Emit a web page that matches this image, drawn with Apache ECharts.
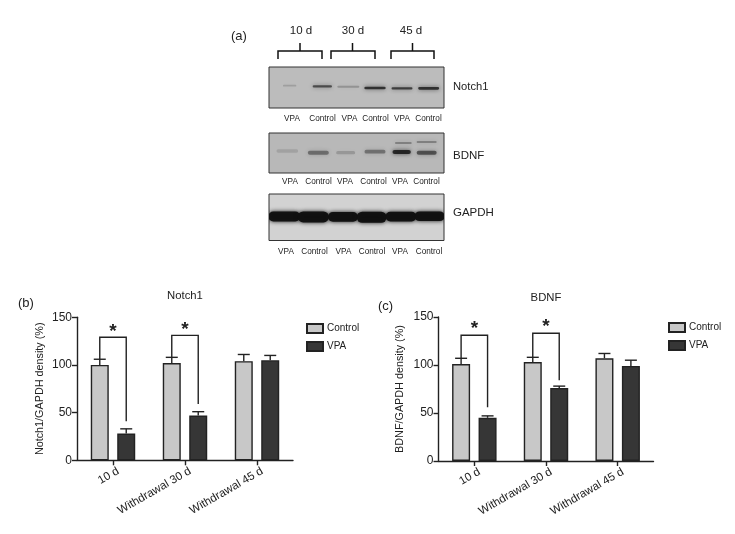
<!DOCTYPE html>
<html>
<head>
<meta charset="utf-8">
<style>html,body{margin:0;padding:0;background:#fff}#c{width:735px;height:534px}</style>
<script src="https://cdn.jsdelivr.net/npm/echarts@6/dist/echarts.min.js"></script>
</head>
<body>
<div id="c"></div>
<script>
const categories = ['10 d', 'Withdrawal 30 d', 'Withdrawal 45 d'];
const notchControl = [100, 102, 104];
const notchControlErr = [106, 108, 111];
const notchVPA = [28, 47, 105];
const notchVPAErr = [33, 51, 110];
const bdnfControl = [101, 103, 107];
const bdnfControlErr = [107, 108, 112];
const bdnfVPA = [45, 76, 99];
const bdnfVPAErr = [47, 78, 105];
// [category, left foot, top, right foot, star]
const notchBrackets = [[0, 106, 129, 41, 135], [1, 108, 131, 59, 137]];
const bdnfBrackets = [[0, 107, 131, 56, 138], [1, 108, 133, 84, 140]];
// blot bands: [lane centre, height position, width, thickness, darkness]
const notchBands = [[62,56,40,5,.16],[160,58,58,7,.6],[238,59,66,6,.22],[318,63,64,8,.75],[399,64,63,7,.68],[479,64,63,8,.75]];
const bdnfBands = [[55,54,65,10,.12],[148,59,63,12,.4],[230,59,57,10,.18],[318,56,63,11,.38],[398,57,55,12,.8],[473,59,60,12,.55],[403,30,50,4,.4],[473,27,60,4,.4]];
const gapdhBands = [[46,68,96,30,.97],[133,69,94,33,.97],[222,69,90,29,.97],[308,70,90,33,.97],[396,68,93,29,.97],[482,67,90,29,.97]];
const laneNames = ['VPA', 'Control', 'VPA', 'Control', 'VPA', 'Control'];
const laneCentresA = [292, 322.5, 349.5, 375.5, 402, 428.5];
const laneCentresB = [290, 318.5, 345, 373.5, 400, 426.5];
const laneCentresC = [286, 314.5, 343.5, 372, 400, 429];

const FONT = '"Liberation Sans", Arial, sans-serif';
const INK = '#222';
const BAR_W = 18, BAR_GAP = '47%';

function bandSeries(idx, data) {
  return {
    type: 'custom', xAxisIndex: idx, yAxisIndex: idx, silent: true, clip: true,
    encode: { x: 0, y: 1 }, data,
    renderItem(params, api) {
      const p = api.coord([api.value(0), api.value(1)]);
      const w = api.size([api.value(2), 0])[0];
      const h = api.size([0, api.value(3)])[1];
      const col = 'rgba(15,15,15,' + api.value(4) + ')';
      return { type: 'rect', shape: { x: p[0] - w / 2, y: p[1] - h / 2, width: w, height: h, r: h / 2 },
        style: { fill: col, shadowBlur: 4, shadowColor: col } };
    }
  };
}
function errSeries(idx, values, tops, which) {
  return {
    type: 'custom', xAxisIndex: idx, yAxisIndex: idx, silent: true, z: 1,
    encode: { x: 0, y: 2 }, data: values.map((v, i) => [i, v, tops[i]]),
    renderItem(params, api) {
      const off = api.barLayout({ barWidth: BAR_W, barGap: BAR_GAP, count: 2 })[which].offsetCenter;
      const a = api.coord([api.value(0), api.value(1)]);
      const b = api.coord([api.value(0), api.value(2)]);
      const x = a[0] + off;
      const style = { stroke: INK, lineWidth: 1.4, fill: 'none' };
      return { type: 'group', children: [
        { type: 'line', shape: { x1: x, y1: a[1], x2: x, y2: b[1] }, style },
        { type: 'line', shape: { x1: x - 6, y1: b[1], x2: x + 6, y2: b[1] }, style }
      ] };
    }
  };
}
function bracketSeries(idx, data) {
  return {
    type: 'custom', xAxisIndex: idx, yAxisIndex: idx, silent: true, z: 5, clip: false,
    encode: { x: 0, y: 2 }, data,
    renderItem(params, api) {
      const lay = api.barLayout({ barWidth: BAR_W, barGap: BAR_GAP, count: 2 });
      const c = api.value(0);
      const l = api.coord([c, api.value(1)]);
      const t = api.coord([c, api.value(2)]);
      const r = api.coord([c, api.value(3)]);
      const s = api.coord([c, api.value(4)]);
      const xl = l[0] + lay[0].offsetCenter, xr = l[0] + lay[1].offsetCenter;
      return { type: 'group', children: [
        { type: 'polyline', shape: { points: [[xl, l[1]], [xl, t[1]], [xr, t[1]], [xr, r[1]]] },
          style: { stroke: INK, lineWidth: 1.4, fill: 'none' } },
        { type: 'text', style: { text: '*', x: (xl + xr) / 2, y: s[1], align: 'center', verticalAlign: 'middle',
          font: 'bold 19px ' + FONT, fill: INK } }
      ] };
    }
  };
}
function barSeries(idx, name, values, color) {
  return { type: 'bar', name, xAxisIndex: idx, yAxisIndex: idx, data: values, barWidth: BAR_W, barGap: BAR_GAP, z: 2,
    itemStyle: { color, borderColor: INK, borderWidth: 1.4 } };
}
const hiddenX = h => ({ type: 'value', min: 0, max: 525, show: false, gridIndex: h });
const hiddenY = (h, max) => ({ type: 'value', min: 0, max, inverse: true, show: false, gridIndex: h });
const axisLine = { show: true, onZero: false, lineStyle: { color: INK, width: 1.4 } };
const axisTick = { show: true, length: 5, lineStyle: { color: INK, width: 1.4 } };
const dataX = h => ({ type: 'category', gridIndex: h, data: categories, axisLine,
  axisTick: { ...axisTick, alignWithLabel: true },
  axisLabel: { rotate: 30, interval: 0, margin: 13, padding: [0, -6, 0, 0], color: INK, fontFamily: FONT, fontSize: 11.5 } });
const dataY = (h, name, gap) => ({ type: 'value', gridIndex: h, min: 0, max: 150, interval: 50, name,
  nameLocation: 'middle', nameGap: gap, nameTextStyle: { color: INK, fontFamily: FONT, fontSize: 10.8 },
  splitLine: { show: false }, axisLine, axisTick,
  axisLabel: { margin: 5, color: INK, fontFamily: FONT, fontSize: 12 } });

function txt(text, x, y, size, align) {
  return { type: 'text', x, y, silent: true, style: { text, font: size + 'px ' + FONT, fill: INK, align: align || 'center', verticalAlign: 'middle' } };
}
function brace(xl, xm, xr) {
  return { type: 'polyline', silent: true, shape: { points: [[xl, 59], [xl, 51], [xm, 51], [xm, 43], [xm, 51], [xr, 51], [xr, 59]] },
    style: { stroke: '#111', lineWidth: 1.5, fill: 'none' } };
}
const graphicEls = [
  txt('(a)', 231, 36, 13, 'left'), txt('(b)', 18, 303, 13, 'left'), txt('(c)', 378, 306, 13, 'left'),
  txt('10 d', 301, 31, 11.5), txt('30 d', 353, 31, 11.5), txt('45 d', 411, 31, 11.5),
  brace(278, 300, 322), brace(331, 352.5, 375), brace(391, 412.5, 434),
  txt('Notch1', 453, 87, 11.2, 'left'), txt('BDNF', 453, 156, 11.5, 'left'), txt('GAPDH', 453, 213, 11.5, 'left'),
  txt('Notch1', 185, 296, 11.3), txt('BDNF', 546, 298, 11.3),
  ...laneNames.map((n, i) => txt(n, laneCentresA[i], 119, 8.2)),
  ...laneNames.map((n, i) => txt(n, laneCentresB[i], 182, 8.2)),
  ...laneNames.map((n, i) => txt(n, laneCentresC[i], 252, 8.2))
];
const blotGrid = (top, height, bg) => ({ left: 269, width: 175, top, height, show: true, backgroundColor: bg, borderColor: '#333', borderWidth: 1 });
const legendOf = (left, top) => ({ left, top, orient: 'vertical', icon: 'rect', itemWidth: 16, itemHeight: 9, itemGap: 7, selectedMode: false,
  data: ['Control', 'VPA'], textStyle: { color: INK, fontFamily: FONT, fontSize: 10, padding: [0, 0, 0, -1] }, padding: 0 });

const chart = echarts.init(document.getElementById('c'), null, { renderer: 'canvas' });
chart.setOption({
  animation: false,
  backgroundColor: '#fff',
  grid: [
    blotGrid(67, 41, '#bcbcbc'), blotGrid(133, 40, '#b8b8b8'), blotGrid(194, 46.5, '#d2d2d2'),
    { left: 77, width: 216, top: 317.3, height: 143 },
    { left: 438.5, width: 215, top: 317, height: 144 }
  ],
  xAxis: [hiddenX(0), hiddenX(1), hiddenX(2), dataX(3), dataX(4)],
  yAxis: [hiddenY(0, 123), hiddenY(1, 120), hiddenY(2, 140), dataY(3, 'Notch1/GAPDH density (%)', 31), dataY(4, 'BDNF/GAPDH density (%)', 33)],
  legend: [legendOf(306, 323), legendOf(668, 322)],
  graphic: { elements: graphicEls },
  series: [
    bandSeries(0, notchBands), bandSeries(1, bdnfBands), bandSeries(2, gapdhBands),
    barSeries(3, 'Control', notchControl, '#c8c8c8'), barSeries(3, 'VPA', notchVPA, '#363636'),
    errSeries(3, notchControl, notchControlErr, 0), errSeries(3, notchVPA, notchVPAErr, 1),
    bracketSeries(3, notchBrackets),
    barSeries(4, 'Control', bdnfControl, '#c8c8c8'), barSeries(4, 'VPA', bdnfVPA, '#363636'),
    errSeries(4, bdnfControl, bdnfControlErr, 0), errSeries(4, bdnfVPA, bdnfVPAErr, 1),
    bracketSeries(4, bdnfBrackets)
  ]
});
</script>
</body>
</html>
